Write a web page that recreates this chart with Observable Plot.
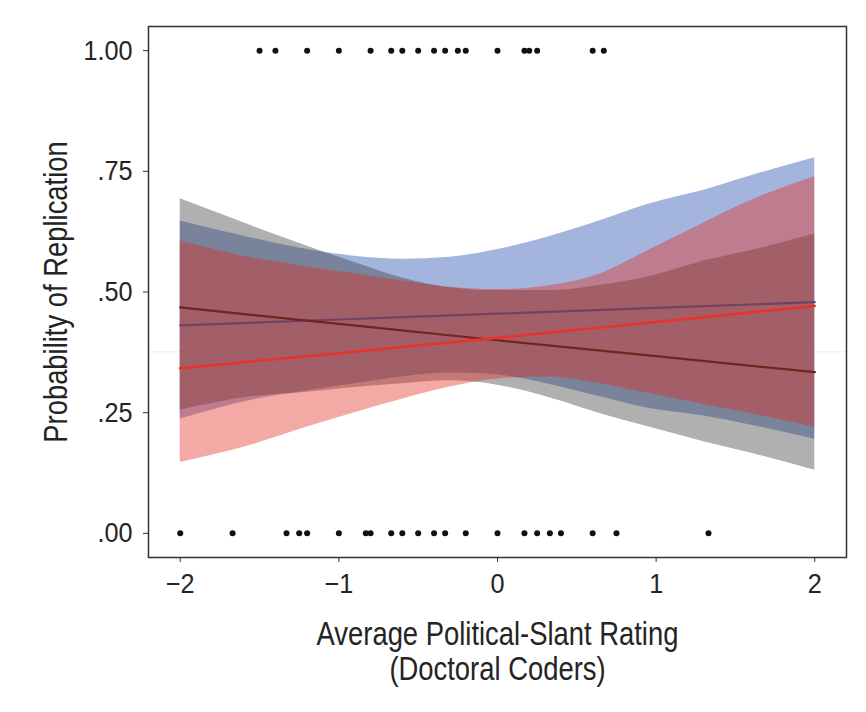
<!DOCTYPE html>
<html>
<head>
<meta charset="utf-8">
<script src="https://cdn.jsdelivr.net/npm/d3@7"></script>
<script src="https://cdn.jsdelivr.net/npm/@observablehq/plot@0.6"></script>
<style>
  html, body { margin: 0; padding: 0; background: #fff; }
  #chart svg { display: block; }
</style>
</head>
<body>
<div id="chart"></div>
<script>
// ---- Data ----
const xTicks = [-2, -1, 0, 1, 2];
const yTicks = [0, 0.25, 0.5, 0.75, 1];
const yTickLabels = [".00", ".25", ".50", ".75", "1.00"];

// Observed outcomes (1 = replicated, 0 = not replicated)
const replicatedX = [-1.5, -1.4, -1.2, -1.0, -0.8, -0.67, -0.6, -0.5, -0.4, -0.33, -0.25, -0.2, 0, 0.17, 0.2, 0.25, 0.6, 0.67];
const notReplicatedX = [-2, -1.67, -1.33, -1.25, -1.2, -1, -0.83, -0.8, -0.67, -0.6, -0.5, -0.4, -0.33, -0.2, 0, 0.17, 0.25, 0.33, 0.4, 0.6, 0.75, 1.33];

// Confidence bands
const bandX = [-2, -1.55, -1.25, -0.9, -0.6, -0.3, 0, 0.35, 0.65, 0.95, 1.3, 1.6, 2];
const grayUpper = [0.693, 0.637, 0.601, 0.561, 0.529, 0.509, 0.503, 0.503, 0.514, 0.531, 0.564, 0.586, 0.620];
const grayLower = [0.255, 0.283, 0.291, 0.302, 0.310, 0.316, 0.307, 0.279, 0.248, 0.221, 0.190, 0.166, 0.131];
const blueUpper = [0.647, 0.612, 0.591, 0.574, 0.568, 0.572, 0.588, 0.617, 0.648, 0.682, 0.711, 0.741, 0.778];
const blueLower = [0.237, 0.276, 0.293, 0.310, 0.324, 0.332, 0.328, 0.307, 0.283, 0.259, 0.243, 0.224, 0.195];
const redUpper  = [0.606, 0.571, 0.555, 0.538, 0.523, 0.510, 0.505, 0.514, 0.538, 0.586, 0.643, 0.690, 0.739];
const redLower  = [0.147, 0.183, 0.215, 0.250, 0.278, 0.303, 0.320, 0.324, 0.310, 0.290, 0.267, 0.248, 0.220];

// Fitted lines
const lineX = [-2, -1, 0, 1, 2];
const grayFit = [0.468, 0.434, 0.400, 0.367, 0.334];
const blueFit = [0.431, 0.443, 0.455, 0.467, 0.479];
const redFit  = [0.342, 0.373, 0.405, 0.438, 0.471];

const faintRule = [0.376];

const xTitle1 = "Average Political-Slant Rating";
const xTitle2 = "(Doctoral Coders)";
const yTitle = "Probability of Replication";

// ---- Build tables ----
const band = (up, lo) => bandX.map((x, i) => ({x, lo: lo[i], up: up[i]}));
const fit = (ys) => lineX.map((x, i) => ({x, y: ys[i]}));
const pts = [
  ...replicatedX.map(x => ({x, y: 1})),
  ...notReplicatedX.map(x => ({x, y: 0}))
];
const labelMap = new Map(yTicks.map((t, i) => [t, yTickLabels[i]]));
const xFmt = d => d < 0 ? "\u2212" + (-d) : String(d);

const FONT = "'Liberation Sans', Arial, sans-serif";
const INK = "#242424";
const curve = "monotone-x";

const chart = Plot.plot({
  width: 866,
  height: 712,
  marginLeft: 148,
  marginRight: 20,
  marginTop: 26,
  marginBottom: 155,
  style: {fontFamily: FONT, color: INK, background: "#fff"},
  x: {domain: [-2.2, 2.2]},
  y: {domain: [-0.05, 1.05]},
  marks: [
    Plot.ruleY(faintRule, {stroke: "#ebebeb", strokeWidth: 1}),
    // layer 1: blue
    Plot.areaY(band(blueUpper, blueLower), {x: "x", y1: "lo", y2: "up", fill: "#1946aa", fillOpacity: 0.4, curve}),
    Plot.line(fit(blueFit), {x: "x", y: "y", stroke: "#1565c8", strokeWidth: 2.2}),
    // layer 2: gray
    Plot.areaY(band(grayUpper, grayLower), {x: "x", y1: "lo", y2: "up", fill: "#3a3a3a", fillOpacity: 0.4, curve}),
    Plot.line(fit(grayFit), {x: "x", y: "y", stroke: "#2a2024", strokeWidth: 2.2}),
    // layer 3: red
    Plot.areaY(band(redUpper, redLower), {x: "x", y1: "lo", y2: "up", fill: "#e42b1c", fillOpacity: 0.4, curve}),
    Plot.line(fit(redFit), {x: "x", y: "y", stroke: "#e8322a", strokeWidth: 2.6}),
    // raw outcomes
    Plot.dot(pts, {x: "x", y: "y", r: 3, fill: "#111", stroke: null}),
    Plot.frame({stroke: "#333", strokeWidth: 1.5}),
    Plot.axisX({ticks: xTicks, tickFormat: xFmt, tickSize: 5, tickPadding: 11, fontSize: 28, label: null, stroke: "#333", className: "tk"}),
    Plot.axisY({ticks: yTicks, tickFormat: d => labelMap.get(d), tickSize: 5, tickPadding: 11, fontSize: 28, label: null, stroke: "#333", className: "tk"}),
    Plot.text([xTitle1], {frameAnchor: "bottom", lineAnchor: "middle", textAnchor: "middle", dy: 77, fontSize: 33, fill: INK, className: "ttl"}),
    Plot.text([xTitle2], {frameAnchor: "bottom", lineAnchor: "middle", textAnchor: "middle", dy: 112, fontSize: 33, fill: INK, className: "ttl"}),
    Plot.text([yTitle], {frameAnchor: "left", lineAnchor: "middle", textAnchor: "middle", dx: -92, rotate: -90, fontSize: 33, fill: INK, className: "ttl"})
  ]
});
document.getElementById("chart").appendChild(chart);

// condensed look (the reference uses a condensed sans face)
function squeeze(selector, k) {
  chart.querySelectorAll(selector).forEach(t => {
    const len = t.getComputedTextLength();
    if (len > 0) {
      t.setAttribute("textLength", (len * k).toFixed(2));
      t.setAttribute("lengthAdjust", "spacingAndGlyphs");
    }
  });
}
squeeze("g.tk text", 0.9);
squeeze("g.ttl text", 0.83);
</script>
</body>
</html>
